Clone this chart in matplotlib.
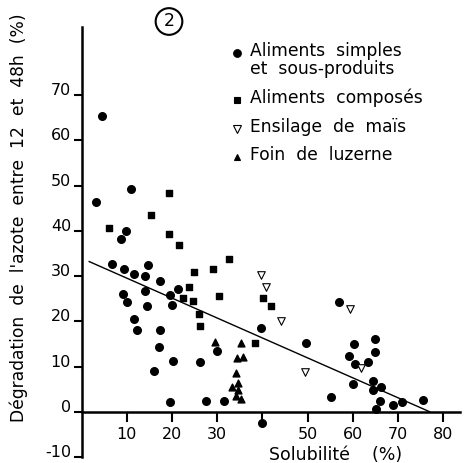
import matplotlib
matplotlib.use("Agg")
import matplotlib.pyplot as plt
import numpy as np

# ---------------- data ----------------
simples_x = [3.1, 4.5, 6.7, 8.7, 9.8, 10.9, 9.4, 9.2, 10.0, 11.7, 11.6, 12.2, 14.1, 14.8,
             14.0, 14.4, 17.3, 17.3, 17.1, 16.0, 19.6, 20.0, 21.3, 20.3, 19.6, 26.3, 27.5,
             29.9, 31.6, 39.6, 39.8, 49.6, 55.2, 57.0, 59.2, 60.2, 60.4, 60.1, 63.4, 64.9,
             64.8, 64.4, 64.4, 66.3, 66.0, 65.1, 68.8, 70.8, 75.4]
simples_y = [46.4, 65.4, 32.6, 38.2, 40.0, 49.2, 31.5, 26.1, 24.2, 30.4, 20.6, 18.1, 30.1, 32.4,
             26.7, 23.4, 28.9, 18.1, 14.4, 8.9, 25.7, 23.6, 27.2, 11.3, 2.1, 10.9, 2.4,
             13.5, 2.4, 18.6, -2.4, 15.1, 3.2, 24.2, 12.4, 15.0, 10.5, 6.2, 11.1, 16.0,
             13.3, 6.7, 4.8, 5.5, 2.4, 0.7, 1.5, 2.1, 2.7]

composes_x = [6.1, 15.3, 19.3, 19.4, 21.6, 22.4, 23.8, 24.8, 24.7, 26.0, 26.1, 29.1, 30.5,
              32.6, 38.3, 40.1, 41.9]
composes_y = [40.7, 43.6, 48.4, 39.3, 36.8, 25.2, 27.5, 31.0, 24.5, 21.5, 18.9, 31.5, 25.5,
              33.7, 15.3, 25.2, 23.4]

ensilage_x = [39.7, 40.7, 44.2, 49.5, 59.4, 61.9]
ensilage_y = [30.2, 27.5, 20.0, 8.8, 22.8, 9.6]

luzerne_x = [29.6, 35.2, 34.3, 35.8, 34.2, 33.2, 34.7, 34.7, 34.2, 35.3]
luzerne_y = [15.5, 15.1, 11.8, 12.0, 8.6, 5.4, 6.4, 4.8, 3.5, 2.9]

reg_x = [1.7, 77.0]
reg_intercept = 33.95
reg_slope = -0.441

xticks = [10, 20, 30, 40, 50, 60, 70, 80]
xticklabels = ["10", "20", "30", "", "50", "60", "70", "80"]
yticks = [-10, 0, 10, 20, 30, 40, 50, 60, 70]
yticklabels = ["-10", "0", "10", "20", "30", "40", "50", "60", "70"]

legend_lines = [["Aliments  simples", "et  sous-produits"], ["Aliments  composés"],
                ["Ensilage  de  maïs"], ["Foin  de  luzerne"]]

# ---------------- figure ----------------
W, H = 468, 463
fig = plt.figure(figsize=(W / 100, H / 100), dpi=100)
plt.rcParams['font.family'] = ['DejaVu Sans']

def fx(px):
    return px / W

def fy(py):
    return 1 - py / H

x0_px, x1_px = 81.5, 460
ytop_px, ybot_px = 27, 457
ax = fig.add_axes([fx(x0_px), fy(ybot_px), fx(x1_px) - fx(x0_px), fy(ytop_px) - fy(ybot_px)])
ax.set_xlim(0, (x1_px - x0_px) / 4.523)
ax.set_ylim(-10, -10 + (ybot_px - ytop_px) / 4.524)

for s in ["top", "right"]:
    ax.spines[s].set_visible(False)
ax.spines["bottom"].set_position(("data", 0))
ax.spines["left"].set_position(("data", 0))
ax.spines["left"].set_linewidth(1.8)
ax.spines["bottom"].set_linewidth(1.8)

ax.set_xticks(xticks)
ax.set_xticklabels(xticklabels)
ax.set_yticks(yticks)
ax.set_yticklabels(yticklabels)
ax.tick_params(axis="x", direction="out", length=7, width=1.5, pad=4, labelsize=11.5)
ax.tick_params(axis="y", direction="out", length=6, width=1.5, pad=1.5, labelsize=11.5)
for t in ax.yaxis.get_major_ticks():
    t.label1.set_verticalalignment("baseline")

ax.scatter(simples_x, simples_y, s=30, marker="o", color="black", zorder=3, clip_on=False)
ax.scatter(composes_x, composes_y, s=22, marker="s", color="black", zorder=3, clip_on=False)
ax.scatter(ensilage_x, ensilage_y, s=30, marker="v", facecolor="white", edgecolor="black",
           linewidth=0.8, zorder=3, clip_on=False)
ax.scatter(luzerne_x, luzerne_y, s=24, marker="^", color="black", zorder=3, clip_on=False)

rx = np.array(reg_x)
ax.plot(rx, reg_intercept + reg_slope * rx, color="black", lw=1.0, zorder=2)

# axis labels
fig.text(fx(19), fy(218), "Dégradation  de  l'azote  entre  12  et  48h  (%)", rotation=90,
         ha="center", va="center", fontsize=12.3)
fig.text(fx(336), fy(455), "Solubilité    (%)", ha="center", va="center", fontsize=12.5)

# circled number
fig.text(fx(169), fy(21.5), "2", ha="center", va="center", fontsize=12.5,
         bbox=dict(boxstyle="circle,pad=0.25", fc="white", ec="black", lw=1.5))

# legend (manual)
leg_marker_x = 237
leg_text_x = 250
rows = [([51, 69.5], "o", "black", 5.5),
        ([98], "s", "black", 4.5),
        ([127], "v", "white", 5.5),
        ([155], "^", "black", 5)]
for i, (pys, mk, fc, ms) in enumerate(rows):
    fig.add_artist(plt.Line2D([fx(leg_marker_x)], [fy(pys[0] + 2)], marker=mk, markersize=ms,
                              markerfacecolor=fc, markeredgecolor="black", markeredgewidth=0.8,
                              linestyle="none", transform=fig.transFigure))
    for py, line in zip(pys, legend_lines[i]):
        fig.text(fx(leg_text_x), fy(py), line, ha="left", va="center", fontsize=12.3)

fig.savefig("out.png", dpi=100)
